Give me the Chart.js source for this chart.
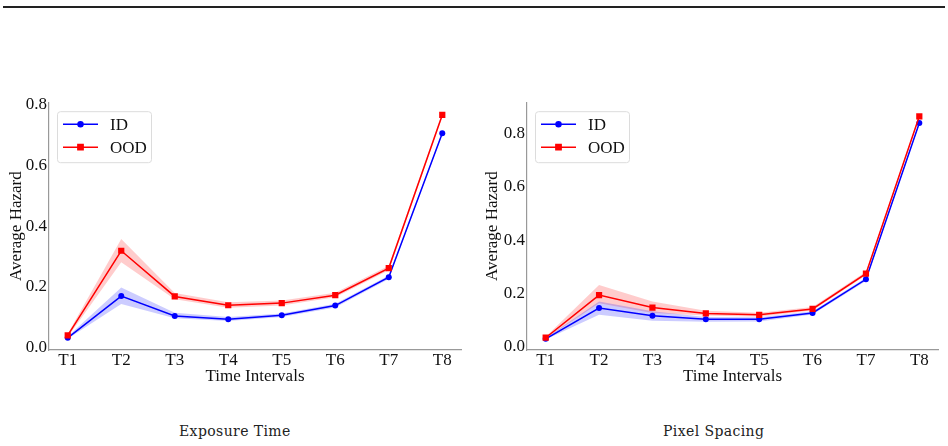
<!DOCTYPE html>
<html>
<head>
<meta charset="utf-8">
<script src="https://cdn.jsdelivr.net/npm/chart.js@4/dist/chart.umd.min.js"></script>
<style>
  body { margin: 0; background: #fff; width: 948px; height: 446px; position: relative; overflow: hidden; }
  .rule { position: absolute; left: 3px; top: 6px; width: 942px; height: 2px; background: #222; }
  .box { position: absolute; top: 90px; height: 300px; }
  .caption { position: absolute; top: 423px; font-family: 'DejaVu Serif', serif; font-size: 14px; color: #222; letter-spacing: 0.4px; }
</style>
</head>
<body>
<div class="rule"></div>
<div class="box" style="left:0;width:470px"><canvas id="exposure" width="470" height="300"></canvas></div>
<div class="box" style="left:470px;width:478px"><canvas id="pixel" width="478" height="300"></canvas></div>
<div class="caption" style="left:179px">Exposure Time</div>
<div class="caption" style="left:663px">Pixel Spacing</div>
<script>
// categories / ticks
const categories = ['T1', 'T2', 'T3', 'T4', 'T5', 'T6', 'T7', 'T8'];
const exposureTicks = [0, 0.2, 0.4, 0.6, 0.8];
const pixelTicks = [0, 0.2, 0.4, 0.6, 0.8];

// Exposure Time
const exposureIdMean = [0.033, 0.170, 0.105, 0.094, 0.107, 0.139, 0.232, 0.705];
const exposureIdLow = [0.030, 0.144, 0.097, 0.088, 0.101, 0.133, 0.226, 0.700];
const exposureIdHigh = [0.037, 0.198, 0.115, 0.101, 0.113, 0.145, 0.238, 0.710];
const exposureOodMean = [0.041, 0.319, 0.169, 0.140, 0.147, 0.173, 0.262, 0.765];
const exposureOodLow = [0.036, 0.281, 0.160, 0.132, 0.139, 0.166, 0.255, 0.758];
const exposureOodHigh = [0.046, 0.358, 0.180, 0.150, 0.156, 0.181, 0.270, 0.772];

// Pixel Spacing
const pixelIdMean = [0.030, 0.145, 0.116, 0.103, 0.103, 0.127, 0.253, 0.839];
const pixelIdLow = [0.027, 0.120, 0.098, 0.094, 0.095, 0.121, 0.247, 0.834];
const pixelIdHigh = [0.033, 0.170, 0.133, 0.112, 0.111, 0.133, 0.259, 0.844];
const pixelOodMean = [0.034, 0.194, 0.147, 0.125, 0.120, 0.142, 0.274, 0.864];
const pixelOodLow = [0.031, 0.163, 0.127, 0.117, 0.113, 0.136, 0.268, 0.859];
const pixelOodHigh = [0.038, 0.232, 0.170, 0.135, 0.128, 0.149, 0.281, 0.870];

const SERIF = "'Liberation Serif', 'Times New Roman', serif";
const BLUE = '#0000ff';
const RED = '#ff0000';

function pts(arr) {
    return arr.map((v, i) => ({x: i, y: v}));
}

// legend with a rounded frame, like matplotlib
const boxLegend = {
    id: 'boxLegend',
    afterDatasetsDraw(chart) {
        const ctx = chart.ctx;
        const a = chart.chartArea;
        const x0 = a.left + 8.5, y0 = a.top + 9.5, w = 94, h = 51;
        ctx.save();
        ctx.beginPath();
        ctx.roundRect(x0, y0, w, h, 3);
        ctx.fillStyle = 'rgba(255,255,255,0.85)';
        ctx.fill();
        ctx.strokeStyle = '#dcdcdc';
        ctx.lineWidth = 1;
        ctx.stroke();
        const items = chart.data.datasets.filter(d => d.legend);
        items.forEach((d, i) => {
            const y = a.top + 22 + i * 23;
            ctx.strokeStyle = d.borderColor;
            ctx.lineWidth = 1.4;
            ctx.beginPath();
            ctx.moveTo(a.left + 14, y);
            ctx.lineTo(a.left + 49, y);
            ctx.stroke();
            Chart.helpers.drawPoint(ctx, {pointStyle: d.pointStyle, radius: d.pointRadius * 0.85, borderWidth: 1}, a.left + 31.5, y);
            ctx.fillStyle = d.borderColor;
            ctx.fill();
            ctx.fillStyle = '#111';
            ctx.font = '17px ' + SERIF;
            ctx.textBaseline = 'middle';
            ctx.fillText(d.label, a.left + 61, y + 1);
        });
        ctx.restore();
    }
};

function makeChart(id, s, yMin, yMax, yTicks, g) {
    return new Chart(document.getElementById(id), {
        type: 'line',
        data: {
            datasets: [
                {data: pts(s.oodHigh), borderWidth: 0, pointRadius: 0, fill: false, order: 3},
                {data: pts(s.oodLow), borderWidth: 0, pointRadius: 0, fill: '-1', backgroundColor: 'rgba(255,0,0,0.2)', order: 3},
                {data: pts(s.idHigh), borderWidth: 0, pointRadius: 0, fill: false, order: 2},
                {data: pts(s.idLow), borderWidth: 0, pointRadius: 0, fill: '-1', backgroundColor: 'rgba(0,0,255,0.2)', order: 2},
                {label: 'ID', legend: true, data: pts(s.idMean), borderColor: BLUE, backgroundColor: BLUE, borderWidth: 1.5,
                    pointStyle: 'circle', pointRadius: 3, pointBorderWidth: 0, order: 1},
                {label: 'OOD', legend: true, data: pts(s.oodMean), borderColor: RED, backgroundColor: RED, borderWidth: 1.5,
                    pointStyle: 'rect', pointRadius: 4.4, pointBorderWidth: 0, order: 0}
            ]
        },
        plugins: [boxLegend],
        options: {
            responsive: false,
            animation: false,
            layout: {padding: {top: g.top, right: g.right, left: 0, bottom: 0}},
            plugins: {legend: {display: false}, tooltip: {enabled: false}},
            scales: {
                x: {
                    type: 'linear',
                    min: -0.35,
                    max: 7.35,
                    afterBuildTicks: (sc) => { sc.ticks = categories.map((c, i) => ({value: i})); },
                    afterFit: (sc) => { sc.height = 40; },
                    grid: {display: false, drawTicks: false},
                    border: {display: true, color: '#999', width: 1.2},
                    ticks: {
                        padding: 0,
                        color: '#111',
                        font: {family: SERIF, size: 17},
                        callback: (v) => categories[v]
                    },
                    title: {display: true, text: 'Time Intervals', color: '#111',
                        font: {family: SERIF, size: 17}, padding: {top: 0, bottom: 3}}
                },
                y: {
                    min: yMin,
                    max: yMax,
                    afterBuildTicks: (sc) => { sc.ticks = yTicks.map(v => ({value: v})); },
                    afterFit: (sc) => { sc.width = g.yWidth; },
                    grid: {display: false, drawTicks: false},
                    border: {display: true, color: '#999', width: 1.2},
                    ticks: {
                        padding: 2,
                        color: '#111',
                        font: {family: SERIF, size: 17},
                        callback: (v) => v.toFixed(1)
                    },
                    title: {display: true, text: 'Average Hazard', color: '#111',
                        font: {family: SERIF, size: 17}, padding: {top: g.titlePad, bottom: 0}}
                }
            }
        }
    });
}

makeChart('exposure', {
    idMean: exposureIdMean, idLow: exposureIdLow, idHigh: exposureIdHigh,
    oodMean: exposureOodMean, oodLow: exposureOodLow, oodHigh: exposureOodHigh
}, -0.007, 0.807, exposureTicks, {top: 7, right: 9, yWidth: 49, titlePad: 6});

makeChart('pixel', {
    idMean: pixelIdMean, idLow: pixelIdLow, idHigh: pixelIdHigh,
    oodMean: pixelOodMean, oodLow: pixelOodLow, oodHigh: pixelOodHigh
}, -0.012, 0.917, pixelTicks, {top: 6, right: 10, yWidth: 57, titlePad: 12});
</script>
</body>
</html>
